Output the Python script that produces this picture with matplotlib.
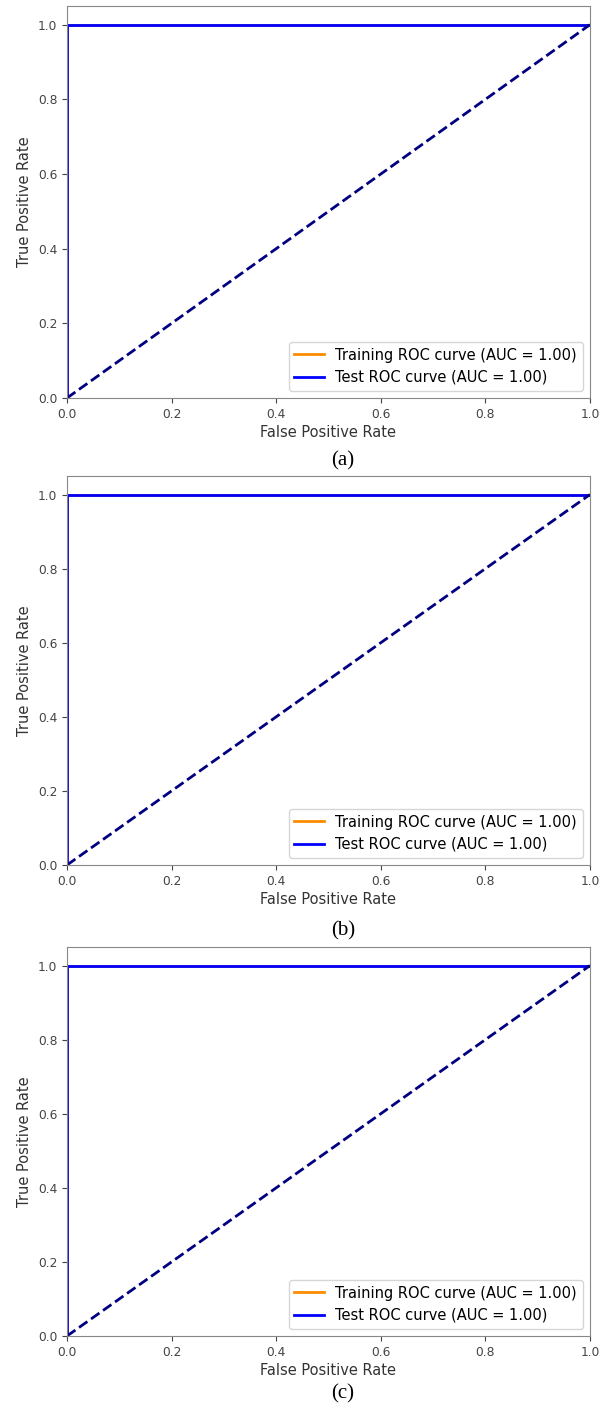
import numpy as np
import matplotlib.pyplot as plt

# ROC points for the three models (all perfect classifiers)
train_fpr = [0.0, 0.0, 1.0]
train_tpr = [0.0, 1.0, 1.0]
test_fpr = [0.0, 0.0, 1.0]
test_tpr = [0.0, 1.0, 1.0]
train_auc = [1.00, 1.00, 1.00]
test_auc = [1.00, 1.00, 1.00]
captions = ["(a)", "(b)", "(c)"]

fig = plt.figure(figsize=(6.03, 14.14), dpi=100)
H = 1414.0
W = 603.0
# (top, bottom) pixel extents of each axes, caption y
boxes = [(6, 398, 461), (476, 865, 931), (947, 1336, 1394)]
left, right = 67, 590

for i in range(3):
    top, bot, cy = boxes[i]
    ax = fig.add_axes([left / W, 1 - bot / H, (right - left) / W, (bot - top) / H])
    ax.plot(train_fpr, train_tpr, color="darkorange", lw=2,
            label="Training ROC curve (AUC = %0.2f)" % train_auc[i])
    ax.plot(test_fpr, test_tpr, color="blue", lw=2,
            label="Test ROC curve (AUC = %0.2f)" % test_auc[i])
    ax.plot([0, 1], [0, 1], color="navy", lw=2, linestyle="--")
    ax.set_xlim([0.0, 1.0])
    ax.set_ylim([0.0, 1.05])
    ax.set_xlabel("False Positive Rate", fontsize=10.5, color="#333333", labelpad=3)
    ax.set_ylabel("True Positive Rate", fontsize=10.5, color="#333333")
    ax.tick_params(labelsize=8.8, colors="#444444")
    for s in ax.spines.values():
        s.set_color("#888888")
    ax.legend(loc="lower right", fontsize=10.5)
    fig.text(343 / W, 1 - cy / H, captions[i],
             ha="center", va="center", fontsize=15, family="Liberation Serif")

plt.savefig("out.png", dpi=100)
